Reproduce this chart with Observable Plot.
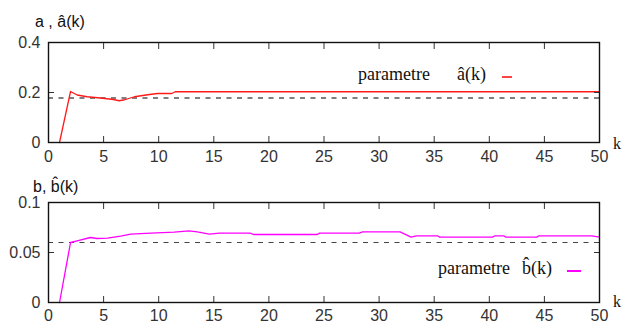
<!DOCTYPE html>
<html>
<head>
<meta charset="utf-8">
<script src="https://cdn.jsdelivr.net/npm/d3@7"></script>
<script src="https://cdn.jsdelivr.net/npm/@observablehq/plot@0.6"></script>
<style>
  html, body { margin: 0; padding: 0; background: #fff; }
  #wrap { position: relative; width: 623px; height: 323px; overflow: hidden; background: #fff; }
  .pl { position: absolute; left: 0; }
  .lab { position: absolute; line-height: 1; white-space: nowrap; color: #111; }
  .sans { font-family: "Liberation Sans", Arial, sans-serif; font-size: 16px; }
  .serif { font-family: "Liberation Serif", "Times New Roman", serif; font-size: 18px; }
  .dash { position: absolute; height: 2px; }
</style>
</head>
<body>
<div id="wrap">
  <div id="p1" class="pl" style="top:0"></div>
  <div id="p2" class="pl" style="top:160px"></div>
  <div class="lab sans" style="left:35px; top:14px">a , â(k)</div>
  <div class="lab sans" style="left:33px; top:179px">b, b̂(k)</div>
  <div class="lab serif" style="left:613px; top:136px; font-size:16px">k</div>
  <div class="lab serif" style="left:613px; top:294px; font-size:16px">k</div>
  <div class="lab serif" style="left:358px; top:65px">parametre</div>
  <div class="lab serif" style="left:457px; top:65px">â(k)</div>
  <div class="dash" style="left:502px; top:76px; width:10px; background:#ff4444"></div>
  <div class="lab serif" style="left:438px; top:259px">parametre</div>
  <div class="lab serif" style="left:522px; top:259px">b̂(k)</div>
  <div class="dash" style="left:567px; top:270px; width:14px; background:#ff00ff"></div>
</div>
<script>
// ---- data ----
const xTicks = [0, 5, 10, 15, 20, 25, 30, 35, 40, 45, 50];
const aTicks = [0, 0.2, 0.4];
const bTicks = [0, 0.05, 0.1];

// estimated parameter a_hat(k)
const kA   = [1, 2, 2.6, 3.5, 4.7, 5.9, 6.4, 6.9, 7.8, 9.0, 9.9, 11.2, 11.5, 50];
const aHat = [0, 0.204, 0.190, 0.183, 0.178, 0.172, 0.167, 0.171, 0.183, 0.191, 0.196, 0.196, 0.203, 0.203];
const aTrue = 0.178;

// estimated parameter b_hat(k)
const kB   = [1, 2, 2.6, 3.8, 4.4, 5.35, 6.55, 7.46, 9.3, 11.4, 12.75, 13.5, 14.6, 15.5, 18.3, 18.6, 24.4, 24.6, 28.2, 28.5, 31.9, 32.9, 33.4, 35.3, 35.5, 40.3, 40.5, 41.3, 41.5, 44.3, 44.5, 49.3, 50];
const bHat = [0, 0.0600, 0.0617, 0.0650, 0.0640, 0.0644, 0.0664, 0.0684, 0.0694, 0.0704, 0.0717, 0.0707, 0.0684, 0.0694, 0.0694, 0.0680, 0.0680, 0.0694, 0.0694, 0.0707, 0.0707, 0.0654, 0.0667, 0.0667, 0.0654, 0.0654, 0.0667, 0.0667, 0.0654, 0.0654, 0.0667, 0.0667, 0.0654];
const bTrue = 0.060;

const aData = kA.map((k, i) => ({k, v: aHat[i]}));
const bData = kB.map((k, i) => ({k, v: bHat[i]}));

function panel(data, yDomain, yTicks, trueVal, color, dashColor, labelPad) {
  return Plot.plot({
    width: 623, height: 162,
    marginLeft: 48, marginRight: 24, marginTop: 42, marginBottom: 20,
    style: {fontFamily: "Liberation Sans, Arial, sans-serif", fontSize: "16px", color: "#333", background: "transparent", overflow: "visible"},
    x: {domain: [0, 50], label: null},
    y: {domain: yDomain, label: null},
    marks: [
      Plot.ruleY([trueVal], {stroke: dashColor, strokeWidth: 1.2, strokeDasharray: "5,5.5"}),
      Plot.line(data, {x: "k", y: "v", stroke: color, strokeWidth: 1.3}),
      Plot.axisX(xTicks, {anchor: "bottom", tickSize: -6, tickPadding: 6 + labelPad, tickFormat: d => String(d), label: null, stroke: "#333"}),
      Plot.axisX(xTicks, {anchor: "top", tickSize: -6, tickFormat: () => "", label: null, stroke: "#333"}),
      Plot.axisY(yTicks, {anchor: "left", tickSize: -6, tickPadding: 14, tickFormat: d => String(d), label: null, stroke: "#333"}),
      Plot.axisY(yTicks, {anchor: "right", tickSize: -6, tickFormat: () => "", label: null, stroke: "#333"}),
      Plot.frame({stroke: "#111", strokeWidth: 1.4})
    ]
  });
}

document.getElementById("p1").append(panel(aData, [0, 0.4], aTicks, aTrue, "#ff1a1a", "#000", 8));
document.getElementById("p2").append(panel(bData, [0, 0.1], bTicks, bTrue, "#ff00ff", "#444", 7));
</script>
</body>
</html>
